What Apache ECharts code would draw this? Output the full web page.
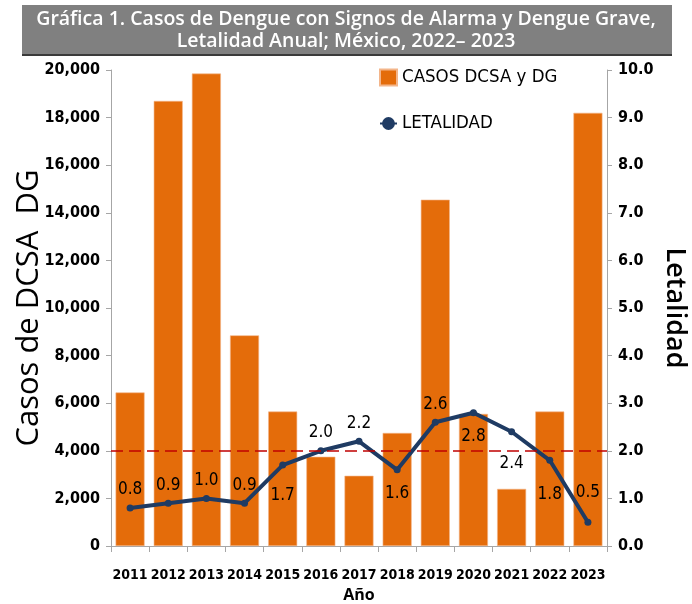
<!DOCTYPE html>
<html>
<head>
<meta charset="utf-8">
<script src="https://cdn.jsdelivr.net/npm/echarts@6/dist/echarts.min.js"></script>
<style>
html,body{margin:0;padding:0;background:#fff;}
#c{width:692px;height:604px;}
</style>
</head>
<body>
<div id="c"></div>
<script>
const years = ['2011','2012','2013','2014','2015','2016','2017','2018','2019','2020','2021','2022','2023'];
const casos = [6450, 18700, 19850, 8850, 5650, 3750, 2950, 4750, 14550, 5550, 2400, 5650, 18200];
const letalidad = [0.8, 0.9, 1.0, 0.9, 1.7, 2.0, 2.2, 1.6, 2.6, 2.8, 2.4, 1.8, 0.5];
const leftTicks = [0, 2000, 4000, 6000, 8000, 10000, 12000, 14000, 16000, 18000, 20000];
const rightTicks = [0, 1, 2, 3, 4, 5, 6, 7, 8, 9, 10];
const umbral = 2.0;

const narrow = "'DejaVu Sans Condensed', sans-serif";
const labelPos = ['top','top','top','top','bottom','top','top','bottom','top','bottom','bottom','bottom','top'];
const labelDist = [6,6,6,6,18,6,6,12,6,12,20,22,18];

const chart = echarts.init(document.getElementById('c'));
chart.setOption({
  animation: false,
  backgroundColor: '#fff',
  graphic: [
    {type:'rect', shape:{x:22, y:5, width:650, height:51}, style:{fill:'#808080'}, z:0},
    {type:'rect', shape:{x:22, y:54, width:650, height:2}, style:{fill:'#3a3a3a'}, z:1},
    {type:'text', left:'center', top:8, style:{text:'Gráfica 1. Casos de Dengue con Signos de Alarma y Dengue Grave,\nLetalidad Anual; México, 2022– 2023', fill:'#fff', font:"600 19.5px 'Open Sans', sans-serif", textAlign:'center', lineHeight:22}, z:2}
  ],
  legend: {
    orient: 'vertical', left: 374, top: 63, itemGap: 27,
    itemWidth: 17, itemHeight: 16,
    textStyle: {fontFamily: narrow, fontSize: 18.5, color: '#000'},
    data: [
      {name:'CASOS DCSA y DG', icon:'rect'},
      {name:'LETALIDAD'}
    ]
  },
  grid: {left: 111, right: 85, top: 70, bottom: 58, outerBoundsMode: 'none', containLabel: false},
  xAxis: {
    type: 'category', data: years,
    name: 'Año', nameLocation: 'middle', nameGap: 41, nameMoveOverlap: false,
    nameTextStyle: {fontFamily: "'Open Sans', sans-serif", fontWeight: 'bold', fontSize: 16, color:'#000'},
    axisLine: {lineStyle: {color: '#a6a6a6'}},
    axisTick: {show: true, length: 6, lineStyle: {color:'#a6a6a6'}},
    axisLabel: {interval: 0, fontFamily: narrow, fontWeight: 'bold', fontSize: 14, color: '#000', margin: 22}
  },
  yAxis: [
    {
      type: 'value', min: 0, max: 20000, interval: 2000,
      name: 'Casos de DCSA  DG', nameLocation: 'middle', nameGap: 66, nameRotate: 90, nameMoveOverlap: false,
      nameTextStyle: {fontFamily: "'Open Sans', sans-serif", fontWeight: 500, fontSize: 31, color: '#000'},
      axisLine: {show: true, lineStyle: {color: '#a6a6a6'}},
      axisTick: {show: true, length: 5, lineStyle: {color:'#a6a6a6'}},
      splitLine: {show: false},
      axisLabel: {fontFamily: narrow, fontWeight: 'bold', fontSize: 16, color: '#000', margin: 11,
        formatter: v => leftTicks.includes(v) ? v.toLocaleString('en-US') : ''}
    },
    {
      type: 'value', min: 0, max: 10, interval: 1, position: 'right',
      name: 'Letalidad', nameLocation: 'middle', nameGap: 54, nameRotate: -90, nameMoveOverlap: false,
      nameTextStyle: {fontFamily: "'Open Sans', sans-serif", fontWeight: 600, fontSize: 27, color: '#000'},
      axisLine: {show: true, lineStyle: {color: '#a6a6a6'}},
      axisTick: {show: true, length: 5, lineStyle: {color:'#a6a6a6'}},
      splitLine: {show: false},
      axisLabel: {fontFamily: narrow, fontWeight: 'bold', fontSize: 16, color: '#000', margin: 11,
        formatter: v => rightTicks.includes(v) ? v.toFixed(1) : ''}
    }
  ],
  series: [
    {
      name: 'CASOS DCSA y DG', type: 'bar', data: casos, yAxisIndex: 0,
      barWidth: '76%',
      itemStyle: {color: '#E46C0A', borderColor: '#f3b58a', borderWidth: 0.6},
      z: 2
    },
    {
      name: 'LETALIDAD', type: 'line', yAxisIndex: 1,
      data: letalidad.map((v, i) => ({value: v, label: {position: labelPos[i], distance: labelDist[i]}})),
      lineStyle: {color: '#1F3B63', width: 4},
      itemStyle: {color: '#1F3B63'},
      symbol: 'circle', symbolSize: 7,
      label: {show: true, fontFamily: narrow, fontSize: 17, color: '#000', formatter: p => p.value.toFixed(1)},
      markLine: {
        silent: true, symbol: 'none', label: {show: false},
        lineStyle: {color: '#C00000', type: [12, 6], width: 1.6},
        data: [{yAxis: umbral}]
      },
      z: 4
    }
  ]
});
</script>
</body>
</html>
